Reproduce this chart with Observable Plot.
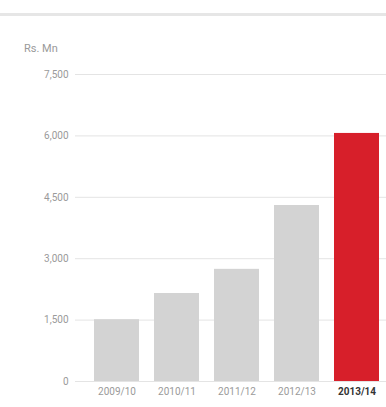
<!DOCTYPE html>
<html><head><meta charset="utf-8">
<script src="https://cdn.jsdelivr.net/npm/d3@7"></script>
<script src="https://cdn.jsdelivr.net/npm/@observablehq/plot@0.6"></script>
<style>
body{margin:0;background:#fff;font-family:Roboto,"Noto Sans",sans-serif;}
#wrap{position:relative;width:386px;height:407px;overflow:hidden;}
#rule{position:absolute;left:0;top:13px;width:386px;height:3px;background:#e6e6e6;}
#unit{position:absolute;left:24px;top:42px;font-size:11px;color:#9a9a9a;line-height:13px;}
#chart{position:absolute;left:0;top:0;}
</style></head>
<body><div id="wrap"><div id="rule"></div><div id="unit">Rs. Mn</div><div id="chart"></div></div>
<script>
const years = ["2009/10","2010/11","2011/12","2012/13","2013/14"];
const values = [1510, 2150, 2740, 4300, 6060];
const highlight = "2013/14";
const yTicks = [0, 1500, 3000, 4500, 6000, 7500];

const data = years.map((y, i) => ({year: y, value: values[i]}));

const chart = Plot.plot({
  width: 386,
  height: 407,
  marginTop: 74,
  marginBottom: 26,
  marginLeft: 86,
  marginRight: 0,
  style: {fontFamily: "Roboto, 'Noto Sans', sans-serif", fontSize: "10px", color: "#9a9a9a", background: "transparent"},
  x: {domain: years, padding: 0.25, paddingOuter: 0.1, label: null},
  y: {domain: [0, 7500], ticks: yTicks, label: null},
  marks: [
    Plot.ruleY(yTicks, {stroke: "#e4e4e4", strokeWidth: 1, insetLeft: -11}),
    Plot.barY(data, {x: "year", y: "value", fill: d => d.year === highlight ? "#d71f2a" : "#d3d3d3"}),
    Plot.axisY({ticks: yTicks, tickSize: 0, tickPadding: 18, tickFormat: d3.format(","), fill: "#9a9a9a", fontSize: 10}),
    Plot.axisX({tickSize: 0, tickPadding: 6, fill: "#9a9a9a", fontSize: 10,
      filter: d => d !== highlight}),
    Plot.axisX({tickSize: 0, tickPadding: 6, fill: "#333", fontSize: 10, fontWeight: "bold",
      filter: d => d === highlight})
  ]
});
document.getElementById("chart").appendChild(chart);
</script></body></html>
